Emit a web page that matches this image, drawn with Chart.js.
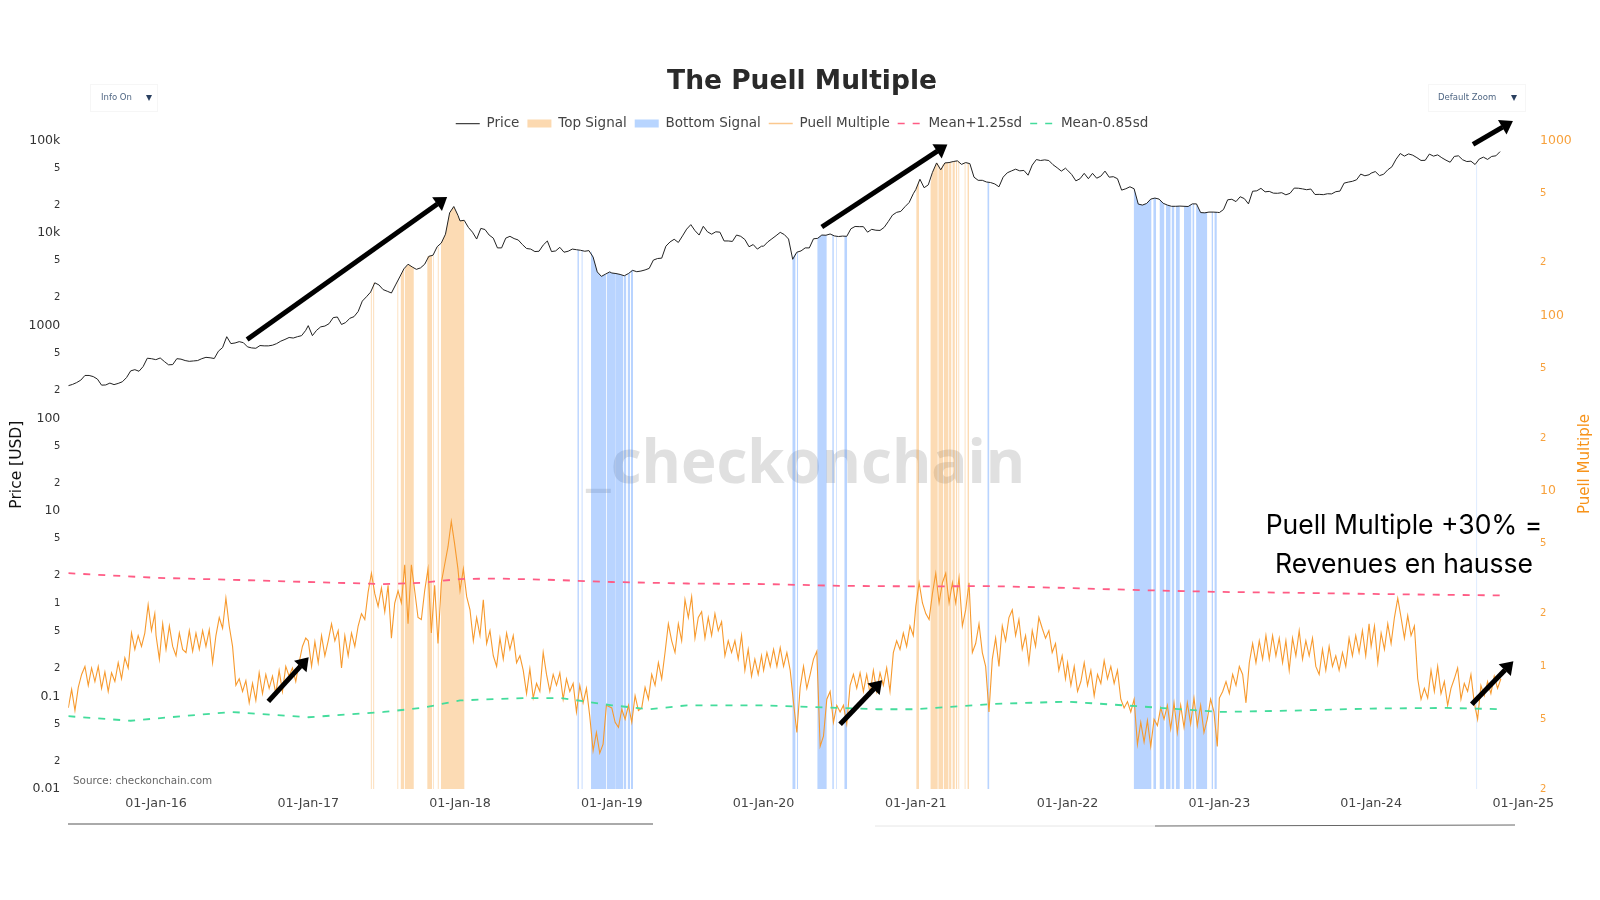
<!DOCTYPE html>
<html>
<head>
<meta charset="utf-8">
<title>The Puell Multiple</title>
<script src="https://cdn.jsdelivr.net/npm/chart.js@4/dist/chart.umd.min.js"></script>
<style>
  body { margin: 0; background: #fff; }
  canvas { display: block; }
</style>
</head>
<body>
<canvas id="puell-chart" width="1600" height="900"></canvas>
<script>
// === Data ===
const priceStepDays = 10;
const puellStepDays = 8;

const price2015 = [225,232,243,258,290,290,282,265,228,229,240,231,238,248,275,325,335,322,362,445,440,430];
const price2016 = [430,448,410,378,380,440,435,420,412,416,420,440,455,450,442,530,580,760,640,650,672,655,590,575,570,610,605,605,615,640,680,710,745,735,760,780,890];
const price2017 = [1000,780,890,970,990,1050,1220,1240,1030,1080,1200,1250,1420,1840,2050,2300,2900,2750,2450,2350,2250,2750,3350,4100,4600,4300,4050,4200,4600,5600,5750,7100,7800,9700,16500,19300,15500];
const price2018 = [13500,13700,11500,10200,8600,11200,10900,9500,8800,6900,6900,8800,9200,8700,8400,7500,6800,6700,6300,6350,7400,8200,6300,6400,7000,6200,6350,6700,6600,6500,6350,6450,5500,3800,3400,3600,3800];
const price2019 = [3700,3650,3570,3450,3650,3950,3820,3880,3990,4150,5100,5300,5350,7200,8000,8550,7900,9300,11000,12300,10600,9500,11800,10300,9700,10300,10200,8200,8200,8100,9500,9200,8500,7100,7500,6700,7200];
const price2020 = [7200,8000,8650,9350,10150,9600,8600,5200,6200,6400,6900,6900,8650,8750,9500,9450,9750,9300,9150,9250,9200,11100,11750,11700,11700,10200,10950,10700,10650,11500,13300,15600,16700,17100,19200,21300,26500];
const price2021 = [29400,38000,30800,33000,45000,57000,48000,57000,57500,59000,60000,55000,57500,56000,40000,37000,37000,35500,35000,33800,31500,40000,44600,46700,48800,46800,47300,42000,54000,62000,60500,61500,60500,54500,50500,46500,50000];
const price2022 = [47500,42700,36500,38500,44000,38500,44000,39000,41000,46500,40000,40500,38500,29000,30000,31500,30000,20500,20000,20800,23200,23800,23200,20900,20000,19400,19400,19500,19400,19300,20600,20600,16600,16500,16800,16800,16700];
const price2023 = [16600,17900,22800,23100,21800,24600,23500,20600,28200,28500,30300,27800,28100,26900,26800,27200,25800,26800,30500,30400,29900,29300,29800,26000,26100,25900,26500,26400,27900,28300,34500,35400,36100,37500,43200,41400,42500];
const price2024 = [44200,46000,41600,43000,48000,51800,62500,72000,67500,71300,69100,65000,60600,60800,71000,67500,69600,64800,61000,58000,67000,68000,61700,59000,59500,54800,62800,65800,62200,67000,68000,75500];

const puell2015 = [.58,.74,.56,.76,.9,1.0,.78,.98,.82,1.0,.75,.93,.72,.92,.82,1.05,.85,1.12,.98,1.55,1.25,1.5,1.3,1.55,2.25,1.6,2.0];
const puell2016 = [1.5,1.1,1.75,1.25,1.7,1.3,1.15,1.55,1.25,1.2,1.6,1.22,1.55,1.25,1.6,1.3,1.62,1.05,1.5,1.9,1.65,2.45,1.7,1.3,.78,.85,.72,.83,.62,.8,.64,.92,.7,.9,.75,.88,.7,.95,.72,1.0,.88,.98,.82,1.05,1.3,1.45];
const puell2017 = [1.4,1.0,1.38,1.05,1.5,1.15,1.4,1.75,1.4,1.6,.98,1.5,1.15,1.55,1.3,1.7,2.0,1.85,2.65,3.4,2.6,2.2,2.8,2.05,2.9,1.45,2.3,2.7,2.3,3.8,1.75,3.8,2.7,1.9,1.85,2.7,3.6,1.55,2.9,1.35,3.0,3.8,4.8,6.7,5.0,3.6];
const puell2018 = [2.7,3.6,2.5,2.1,1.4,1.9,1.5,2.4,1.35,1.6,1.15,1.0,1.45,1.1,1.55,1.25,1.5,1.05,1.15,.95,.7,.97,.66,.8,.72,1.2,.9,.72,.9,.78,.92,.65,.85,.72,.8,.55,.78,.62,.75,.52,.33,.42,.32,.36,.6];
const puell2019 = [.58,.48,.45,.57,.5,.6,.48,.68,.56,.58,.76,.65,.9,.78,1.05,.85,1.2,1.75,1.4,1.2,1.75,1.4,2.4,1.9,2.5,1.45,1.9,2.05,1.45,1.9,1.5,2.0,1.6,1.8,1.15,1.4,1.2,1.4,1.1,1.5,.95,1.25,.88,1.1,.9,1.15];
const puell2020 = [.95,1.2,1.0,1.25,1.0,1.28,1.0,1.2,.95,.62,.42,.76,1.0,.75,.9,1.1,1.22,.35,.4,.65,.72,.48,.6,.55,.6,.47,.78,.9,.75,.92,.72,.9,.7,.95,.72,.92,.78,.98,.72,1.2,1.4,1.25,1.55,1.3,1.7,1.5];
const puell2021 = [2.2,3.0,2.3,2.0,1.85,2.6,3.4,2.3,3.0,3.4,2.3,3.0,2.3,3.2,1.7,2.1,3.0,1.2,1.35,1.75,1.2,1.0,.55,1.1,1.45,1.0,1.7,1.4,1.9,2.1,1.5,1.85,1.25,1.5,1.05,1.6,1.3,1.9,1.65,1.45,1.6,1.2,1.35,.95,1.15,.85];
const puell2022 = [1.05,.78,1.0,.72,.82,1.05,.78,.95,.68,.9,.8,1.08,.85,1.0,.8,.95,.65,.58,.63,.55,.65,.36,.48,.37,.49,.35,.5,.46,.58,.5,.6,.44,.62,.42,.6,.45,.62,.47,.66,.46,.6,.42,.5,.65,.55,.35];
const puell2023 = [.66,.72,.82,.7,.9,.78,1.0,.9,.62,1.05,1.35,1.05,1.4,1.1,1.5,1.1,1.5,1.15,1.45,1.05,1.4,.95,1.45,1.15,1.6,1.1,1.4,1.15,1.45,1.0,.9,1.25,.95,1.3,1.0,1.15,.95,1.2,1.0,1.45,1.15,1.5,1.2,1.6,1.15,1.75];
const puell2024 = [1.3,1.7,1.05,1.55,1.25,1.75,1.35,1.9,2.45,1.9,1.45,1.95,1.5,1.7,.85,.65,.75,.66,.95,.72,1.0,.7,.82,.6,.75,.85,.98,.65,.8,.72,.9,.62,.5,.78,.68,.82,.7,.88,.75,.85];

const bandDates = ['2015-06-04','2016-01-01','2016-07-01','2017-01-01','2017-07-01','2017-10-01','2018-01-01','2018-04-01','2018-08-01','2019-01-01','2019-07-01','2020-01-01','2020-07-01','2021-01-01','2021-07-01','2022-01-01','2022-07-01','2023-01-01','2023-07-01','2024-01-01','2024-07-01','2024-11-08'];
const meanUpper = [3.4,3.2,3.12,3.03,2.95,3.0,3.15,3.17,3.12,3.03,2.97,2.95,2.88,2.86,2.87,2.8,2.72,2.66,2.63,2.59,2.56,2.54];
const lowerDates = ['2015-06-04','2015-11-01','2016-01-01','2016-07-01','2017-01-01','2017-07-01','2017-10-01','2018-01-01','2018-06-01','2018-09-01','2019-01-01','2019-04-01','2019-07-01','2020-01-01','2020-07-01','2020-10-01','2021-01-01','2021-07-01','2022-01-01','2022-07-01','2023-01-01','2023-07-01','2024-01-01','2024-07-01','2024-11-08'];
const meanLower = [.52,.49,.505,.55,.513,.55,.58,.64,.66,.66,.6,.57,.6,.6,.58,.57,.57,.61,.63,.59,.55,.56,.575,.58,.57];

const topSignalRanges = [
    ['2017-05-31','2017-06-03'],['2017-06-06','2017-06-09'],['2017-08-03','2017-08-06'],['2017-08-11','2017-08-20'],
    ['2017-08-21','2017-09-12'],['2017-10-14','2017-10-26'],['2017-10-28','2017-10-30'],['2017-11-08','2017-11-11'],
    ['2017-11-16','2018-01-12'],
    ['2021-01-02','2021-01-09'],['2021-02-05','2021-02-23'],['2021-02-24','2021-03-08'],['2021-03-09','2021-03-21'],
    ['2021-03-22','2021-03-28'],['2021-03-30','2021-04-05'],['2021-04-07','2021-04-11'],['2021-04-13','2021-04-16'],
    ['2021-04-28','2021-05-01'],['2021-05-05','2021-05-09']
];
const bottomSignalRanges = [
    ['2018-10-10','2018-10-14'],['2018-10-20','2018-10-23'],['2018-11-12','2018-12-19'],['2018-12-20','2019-01-09'],
    ['2019-01-09','2019-01-29'],['2019-01-30','2019-02-05'],['2019-02-08','2019-02-14'],['2019-02-16','2019-02-21'],
    ['2020-03-10','2020-03-18'],['2020-03-21','2020-03-24'],['2020-05-09','2020-06-01'],['2020-06-14','2020-06-18'],
    ['2020-06-23','2020-06-25'],['2020-07-13','2020-07-20'],['2021-06-22','2021-06-27'],
    ['2022-06-09','2022-07-22'],['2022-07-26','2022-08-02'],['2022-08-10','2022-08-22'],['2022-08-25','2022-09-06'],
    ['2022-09-08','2022-09-15'],['2022-09-18','2022-09-28'],['2022-10-08','2022-10-26'],['2022-10-28','2022-11-02'],
    ['2022-11-06','2022-12-03'],['2022-12-13','2022-12-17'],['2022-12-20','2022-12-26'],['2024-09-10','2024-09-12']
];

// date, left axis value -> date, left axis value
const arrowNotes = [
    ['2016-08-07',708,'2017-12-01',24440],
    ['2016-09-27',.0883,'2017-01-02',.2636],
    ['2020-05-20',11600,'2021-03-18',89900],
    ['2020-07-03',.0499,'2020-10-12',.149],
    ['2024-09-02',90500,'2024-12-07',161600],
    ['2024-08-30',.082,'2024-12-08',.2388]
];

const legendNames = ['Price','Top Signal','Bottom Signal','Puell Multiple','Mean+1.25sd','Mean-0.85sd'];
const xTickYears = [2016,2017,2018,2019,2020,2021,2022,2023,2024,2025];
const priceTickValues = [100000,50000,20000,10000,5000,2000,1000,500,200,100,50,20,10,5,2,1,.5,.2,.1,.05,.02,.01];
const priceTickLabels = ['100k','5','2','10k','5','2','1000','5','2','100','5','2','10','5','2','1','5','2','0.1','5','2','0.01'];
const puellTickValues = [1000,500,200,100,50,20,10,5,2,1,.5,.2];
const puellTickLabels = ['1000','5','2','100','5','2','10','5','2','1','5','2'];
const noteLines = ['Puell Multiple +30% =','Revenues en hausse'];

// === Helpers ===
const DAY_MS = 86400000;
const toMs = (str) => Date.parse(str + 'T00:00:00Z');

const buildSeries = (chunks, stepDays) => {
    const points = [];
    chunks.forEach(([start, values]) => {
        values.forEach((value, i) => {
            points.push({ x: toMs(start) + i * stepDays * DAY_MS, y: value });
        });
    });
    return points;
};

const priceData = buildSeries([
    ['2015-06-04', price2015], ['2016-01-01', price2016], ['2017-01-01', price2017], ['2018-01-01', price2018],
    ['2019-01-01', price2019], ['2020-01-01', price2020], ['2021-01-01', price2021], ['2022-01-01', price2022],
    ['2023-01-01', price2023], ['2024-01-01', price2024]
], priceStepDays);

const puellData = buildSeries([
    ['2015-06-04', puell2015], ['2016-01-01', puell2016], ['2017-01-01', puell2017], ['2018-01-01', puell2018],
    ['2019-01-01', puell2019], ['2020-01-01', puell2020], ['2021-01-01', puell2021], ['2022-01-01', puell2022],
    ['2023-01-01', puell2023], ['2024-01-01', puell2024]
], puellStepDays);

// the signal shading reaches up to the price line
const nearestPrice = (ms) => priceData.reduce((best, p) => (Math.abs(p.x - ms) < Math.abs(best.x - ms) ? p : best)).y;

const buildSignal = (ranges) => {
    const points = [];
    ranges.forEach(([from, to]) => {
        const start = toMs(from);
        const end = toMs(to);
        points.push({ x: start, y: nearestPrice(start) });
        priceData.filter(p => p.x > start && p.x < end).forEach(p => points.push(p));
        points.push({ x: end, y: nearestPrice(end) });
        points.push({ x: end + 1, y: null });
    });
    return points;
};

const formatTickDate = (ms) => {
    const d = new Date(ms);
    const months = ['Jan','Feb','Mar','Apr','May','Jun','Jul','Aug','Sep','Oct','Nov','Dec'];
    return `${String(d.getUTCDate()).padStart(2, '0')}-${months[d.getUTCMonth()]}-${String(d.getUTCFullYear()).slice(2)}`;
};

// === Extras the library has no element for ===
const extrasBehind = {
    id: 'extrasBehind',
    beforeLayout(chart) {
        // a little more air between legend and plot
        chart.legend.afterFit = function () { this.height += 3; };
    },
    beforeDatasetsDraw(chart) {
        const { ctx } = chart;
        ctx.save();
        ctx.fillStyle = '#e0e0e0';
        ctx.font = 'bold 60px "Open Sans"';
        ctx.textAlign = 'left';
        ctx.textBaseline = 'middle';
        ctx.fillText('_checkonchain', 586, 466);
        ctx.restore();
    }
};

const extrasFront = {
    id: 'extrasFront',
    afterDatasetsDraw(chart) {
        const { ctx, scales } = chart;
        const x = scales.x;
        const y = scales.yPrice;
        ctx.save();

        // arrows
        arrowNotes.forEach(([fromDate, fromValue, toDate, toValue]) => {
            const x1 = x.getPixelForValue(toMs(fromDate));
            const y1 = y.getPixelForValue(fromValue);
            const x2 = x.getPixelForValue(toMs(toDate));
            const y2 = y.getPixelForValue(toValue);
            const angle = Math.atan2(y2 - y1, x2 - x1);
            const head = 15;
            ctx.strokeStyle = '#000';
            ctx.fillStyle = '#000';
            ctx.lineWidth = 5;
            ctx.beginPath();
            ctx.moveTo(x1, y1);
            ctx.lineTo(x2 - head * 0.8 * Math.cos(angle), y2 - head * 0.8 * Math.sin(angle));
            ctx.stroke();
            ctx.beginPath();
            ctx.moveTo(x2, y2);
            ctx.lineTo(x2 - head * Math.cos(angle - 0.6), y2 - head * Math.sin(angle - 0.6));
            ctx.lineTo(x2 - head * Math.cos(angle + 0.6), y2 - head * Math.sin(angle + 0.6));
            ctx.closePath();
            ctx.fill();
        });

        // annotation
        ctx.fillStyle = '#000';
        ctx.font = '26.5px Inter';
        ctx.textAlign = 'center';
        ctx.textBaseline = 'middle';
        ctx.fillText(noteLines[0], 1404, 526);
        ctx.fillText(noteLines[1], 1404, 565);

        // source
        ctx.fillStyle = '#666';
        ctx.font = '10.4px "DejaVu Sans"';
        ctx.textAlign = 'left';
        ctx.fillText('Source: checkonchain.com', 73, 781);

        // right axis title, reads upwards
        ctx.save();
        ctx.translate(1585, 464);
        ctx.rotate(-Math.PI / 2);
        ctx.textAlign = 'center';
        ctx.fillStyle = '#f7931a';
        ctx.font = '15px "DejaVu Sans"';
        ctx.fillText('Puell Multiple', 0, 0);
        ctx.restore();

        // dropdowns
        ctx.strokeStyle = '#f6f6f6';
        ctx.lineWidth = 1;
        ctx.strokeRect(90.5, 84.5, 67, 27);
        ctx.strokeRect(1428.5, 84.5, 97, 27);
        ctx.fillStyle = '#506784';
        ctx.font = '8.5px "DejaVu Sans"';
        ctx.fillText('Info On', 101, 98);
        ctx.fillText('Default Zoom', 1438, 98);
        ctx.fillStyle = '#2a3f5f';
        [149, 1514].forEach((tx) => {
            ctx.beginPath();
            ctx.moveTo(tx - 3, 95);
            ctx.lineTo(tx + 3, 95);
            ctx.lineTo(tx, 101);
            ctx.closePath();
            ctx.fill();
        });

        // range slider
        ctx.strokeStyle = '#aaa';
        ctx.lineWidth = 2;
        ctx.beginPath();
        ctx.moveTo(68, 824);
        ctx.lineTo(653, 824);
        ctx.stroke();
        ctx.strokeStyle = '#e6e6e6';
        ctx.lineWidth = 1;
        ctx.beginPath();
        ctx.moveTo(875, 826);
        ctx.lineTo(1155, 826);
        ctx.stroke();
        ctx.strokeStyle = '#666';
        ctx.beginPath();
        ctx.moveTo(1155, 826);
        ctx.lineTo(1515, 825);
        ctx.stroke();
        ctx.restore();
    }
};

// === Chart ===
const legendStyles = [
    { strokeStyle: '#444', lineWidth: 1.2, lineDash: [] },
    { strokeStyle: '#fcd9b0', lineWidth: 8, lineDash: [] },
    { strokeStyle: '#b8d5ff', lineWidth: 8, lineDash: [] },
    { strokeStyle: '#fbc88e', lineWidth: 1.5, lineDash: [] },
    { strokeStyle: '#ff5c85', lineWidth: 1.5, lineDash: [7, 8] },
    { strokeStyle: '#44dc9c', lineWidth: 1.5, lineDash: [7, 8] }
];

const tickFont = (labels) => (ctx) => {
    const isMajor = labels[ctx.index] && labels[ctx.index].length > 1;
    return { family: '"DejaVu Sans"', size: isMajor ? 12.5 : 10 };
};

new Chart(document.getElementById('puell-chart'), {
    type: 'line',
    data: {
        datasets: [
            { label: legendNames[0], data: priceData, yAxisID: 'yPrice', borderColor: '#222', borderWidth: 1, pointRadius: 0, order: 1 },
            { label: legendNames[1], data: buildSignal(topSignalRanges), yAxisID: 'yPrice', borderWidth: 0, pointRadius: 0, fill: 'start', backgroundColor: 'rgba(247,147,26,0.33)', order: 6 },
            { label: legendNames[2], data: buildSignal(bottomSignalRanges), yAxisID: 'yPrice', borderWidth: 0, pointRadius: 0, fill: 'start', backgroundColor: 'rgba(60,135,255,0.36)', order: 5 },
            { label: legendNames[3], data: puellData, yAxisID: 'yPuell', borderColor: '#f79a2e', borderWidth: 1.1, pointRadius: 0, order: 4 },
            { label: legendNames[4], data: bandDates.map((d, i) => ({ x: toMs(d), y: meanUpper[i] })), yAxisID: 'yPuell', borderColor: '#ff5c85', borderWidth: 1.8, borderDash: [7, 8], pointRadius: 0, order: 3 },
            { label: legendNames[5], data: lowerDates.map((d, i) => ({ x: toMs(d), y: meanLower[i] })), yAxisID: 'yPuell', borderColor: '#44dc9c', borderWidth: 1.8, borderDash: [7, 8], pointRadius: 0, order: 2 }
        ]
    },
    plugins: [extrasBehind, extrasFront],
    options: {
        responsive: false,
        animation: false,
        events: [],
        layout: { padding: { left: 4 } },
        plugins: {
            tooltip: { enabled: false },
            title: {
                display: true,
                text: 'The Puell Multiple',
                color: '#2a2a2a',
                font: { family: '"DejaVu Sans"', size: 26.5, weight: 'bold' },
                padding: { top: 66, bottom: 11 }
            },
            legend: {
                display: true,
                position: 'top',
                labels: {
                    font: { family: '"DejaVu Sans"', size: 13.5 },
                    color: '#444',
                    padding: 8,
                    usePointStyle: true,
                    pointStyleWidth: 24,
                    generateLabels: () => legendNames.map((name, i) => ({
                        text: name,
                        datasetIndex: i,
                        fontColor: '#444',
                        pointStyle: 'line',
                        ...legendStyles[i]
                    }))
                }
            }
        },
        scales: {
            x: {
                type: 'linear',
                min: toMs('2015-06-04'),
                max: toMs('2025-01-05'),
                grid: { display: false, drawTicks: false },
                border: { display: false },
                afterFit: (scale) => { scale.height = 111; },
                afterBuildTicks: (scale) => {
                    scale.ticks = xTickYears.map(year => ({ value: Date.UTC(year, 0, 1) }));
                },
                ticks: {
                    autoSkip: false,
                    maxRotation: 0,
                    padding: 7,
                    color: '#444',
                    font: { family: '"DejaVu Sans"', size: 12.7 },
                    callback: (value) => formatTickDate(value)
                }
            },
            yPrice: {
                type: 'logarithmic',
                position: 'left',
                min: 0.01,
                max: 100000,
                grid: { display: false, drawTicks: false },
                border: { display: false },
                afterFit: (scale) => { scale.width = 64.3; },
                afterBuildTicks: (scale) => {
                    scale.ticks = priceTickValues.map(value => ({ value }));
                },
                title: { display: true, text: 'Price [USD]', color: '#111', font: { family: '"DejaVu Sans"', size: 15.5 }, padding: { top: 4, bottom: 0 } },
                ticks: {
                    autoSkip: false,
                    padding: 8,
                    color: '#333',
                    font: tickFont(priceTickLabels),
                    callback: (value, index) => priceTickLabels[index]
                }
            },
            yPuell: {
                type: 'logarithmic',
                position: 'right',
                min: 0.2,
                max: 1000,
                grid: { display: false, drawTicks: false },
                border: { display: false },
                afterFit: (scale) => { scale.width = 75; },
                afterBuildTicks: (scale) => {
                    scale.ticks = puellTickValues.map(value => ({ value }));
                },
                ticks: {
                    autoSkip: false,
                    padding: 15,
                    color: '#f7a13c',
                    font: tickFont(puellTickLabels),
                    callback: (value, index) => puellTickLabels[index]
                }
            }
        }
    }
});
</script>
</body>
</html>
